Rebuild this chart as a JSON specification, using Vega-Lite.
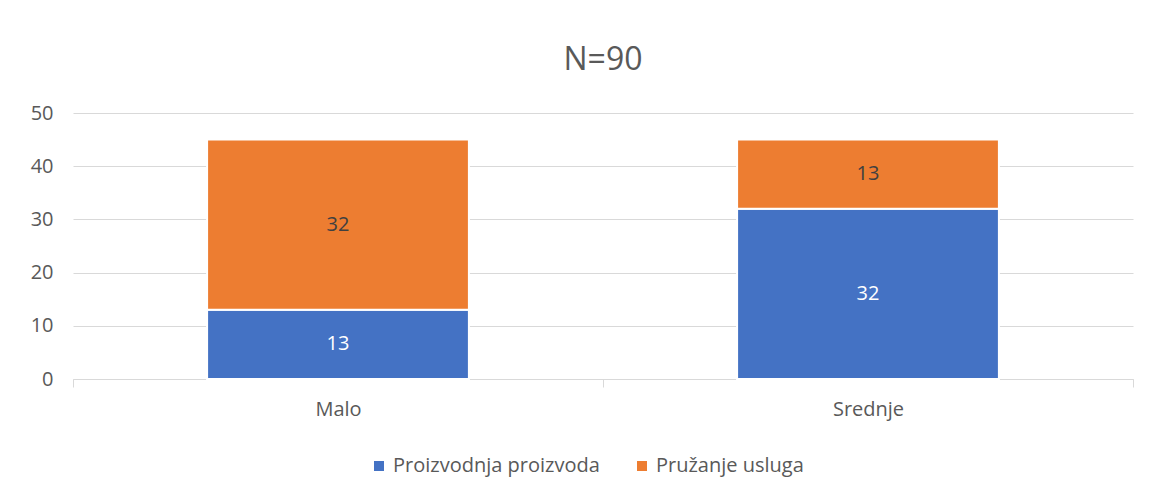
{
  "$schema": "https://vega.github.io/schema/vega-lite/v6.json",
  "autosize": {"type": "none"},
  "width": 1060,
  "height": 266,
  "padding": {"left": 73, "top": 113, "right": 16, "bottom": 117},
  "background": "white",
  "title": {
    "text": "N=90",
    "fontSize": 32,
    "font": "Open Sans",
    "fontWeight": "normal",
    "color": "#595959",
    "offset": 26,
    "anchor": "middle"
  },
  "data": {
    "values": [
      {"velicina": "Malo", "delatnost": "Proizvodnja proizvoda", "broj": 13},
      {"velicina": "Malo", "delatnost": "Pružanje usluga", "broj": 32},
      {"velicina": "Srednje", "delatnost": "Proizvodnja proizvoda", "broj": 32},
      {"velicina": "Srednje", "delatnost": "Pružanje usluga", "broj": 13}
    ]
  },
  "encoding": {
    "x": {
      "field": "velicina",
      "type": "nominal",
      "title": null,
      "scale": {"paddingInner": 0, "paddingOuter": 0},
      "axis": {
        "labelAngle": 0,
        "tickBand": "extent",
        "tickSize": 8,
        "tickColor": "#d9d9d9",
        "domainColor": "#d9d9d9",
        "labelPadding": 12,
        "labelFontSize": 20,
        "labelFont": "Open Sans",
        "labelColor": "#595959"
      }
    },
    "y": {
      "field": "broj",
      "type": "quantitative",
      "stack": "zero",
      "title": null,
      "scale": {"domain": [0, 50], "nice": false},
      "axis": {
        "values": [0, 10, 20, 30, 40, 50],
        "ticks": false,
        "domain": false,
        "gridColor": "#d9d9d9",
        "labelPadding": 20,
        "labelFontSize": 20,
        "labelFont": "Open Sans",
        "labelColor": "#595959"
      }
    },
    "order": {"field": "delatnost", "sort": "ascending"}
  },
  "layer": [
    {
      "mark": {"type": "bar", "width": {"band": 0.494}, "stroke": "white", "strokeWidth": 2},
      "encoding": {
        "color": {
          "field": "delatnost",
          "type": "nominal",
          "scale": {"domain": ["Proizvodnja proizvoda", "Pružanje usluga"], "range": ["#4472C4", "#ED7D31"]},
          "legend": {
            "title": null,
            "orient": "none",
            "legendX": 296,
            "legendY": 343,
            "direction": "horizontal",
            "symbolType": "square",
            "symbolSize": 100,
            "symbolStrokeWidth": 0,
            "labelFontSize": 20,
            "labelFont": "Open Sans",
            "labelColor": "#595959",
            "labelLimit": 0,
            "columnPadding": 32,
            "labelOffset": 4
          }
        }
      }
    },
    {
      "mark": {"type": "text", "fontSize": 20, "font": "Open Sans"},
      "encoding": {
        "y": {"field": "broj", "type": "quantitative", "stack": "zero", "bandPosition": 0.5},
        "text": {"field": "broj", "type": "quantitative"},
        "color": {
          "condition": {"test": "datum.delatnost === 'Proizvodnja proizvoda'", "value": "white"},
          "value": "#404040"
        }
      }
    }
  ],
  "config": {"view": {"stroke": null}}
}
